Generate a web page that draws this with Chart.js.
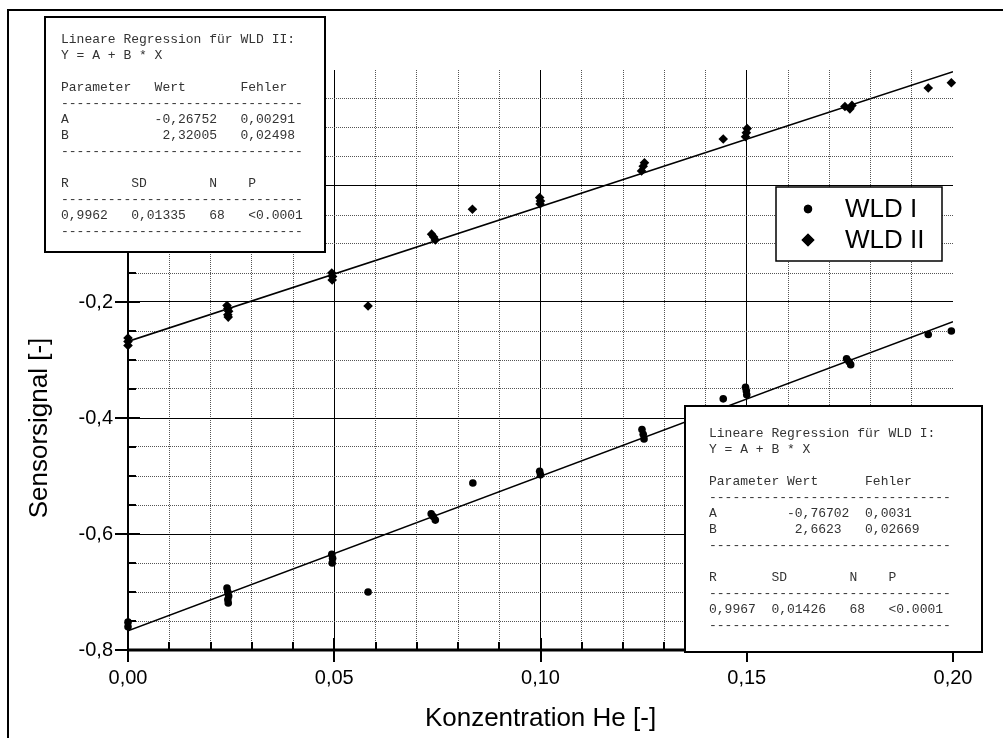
<!DOCTYPE html>
<html>
<head>
<meta charset="utf-8">
<script src="https://cdn.jsdelivr.net/npm/chart.js@4.4.1/dist/chart.umd.min.js"></script>
<style>
  html, body { margin: 0; padding: 0; background: #fff; }
</style>
</head>
<body>
<canvas id="chart" width="1003" height="738"></canvas>
<script>
// WLD I (circles)
const wld1X = [0, 0, 0.0240, 0.0242, 0.0244, 0.0242, 0.0243, 0.0494, 0.0496, 0.0495, 0.0582, 0.0735, 0.0740, 0.0745, 0.0836, 0.0998, 0.1000, 0.1246, 0.1249, 0.1251, 0.1443, 0.1497, 0.1499, 0.1500, 0.1742, 0.1748, 0.1752, 0.1940, 0.1996];
const wld1Y = [-0.752, -0.760, -0.693, -0.700, -0.707, -0.713, -0.719, -0.635, -0.642, -0.650, -0.700, -0.565, -0.570, -0.576, -0.512, -0.492, -0.498, -0.420, -0.428, -0.436, -0.367, -0.347, -0.353, -0.360, -0.298, -0.303, -0.308, -0.256, -0.250];

// WLD II (diamonds)
const wld2X = [0, 0, 0, 0.0240, 0.0242, 0.0244, 0.0242, 0.0243, 0.0494, 0.0496, 0.0495, 0.0582, 0.0736, 0.0741, 0.0745, 0.0835, 0.0998, 0.1000, 0.0999, 0.1245, 0.1249, 0.1252, 0.1443, 0.1497, 0.1499, 0.1501, 0.1738, 0.1750, 0.1755, 0.1940, 0.1996];
const wld2Y = [-0.262, -0.268, -0.275, -0.206, -0.211, -0.216, -0.222, -0.226, -0.150, -0.156, -0.162, -0.207, -0.083, -0.088, -0.093, -0.040, -0.020, -0.026, -0.031, 0.026, 0.034, 0.040, 0.081, 0.085, 0.092, 0.099, 0.137, 0.133, 0.139, 0.169, 0.178];

// regression lines (end points)
const fitX = [0, 0.2];
const fit1Y = [-0.767, -0.234];
const fit2Y = [-0.268, 0.197];

const seriesLabels = ['WLD I', 'WLD II'];
const xTitle = 'Konzentration He [-]';
const yTitle = 'Sensorsignal [-]';

const inset2Lines = [
  'Lineare Regression für WLD II:',
  'Y = A + B * X',
  '',
  'Parameter   Wert       Fehler',
  '-------------------------------',
  'A           -0,26752   0,00291',
  'B            2,32005   0,02498',
  '-------------------------------',
  '',
  'R        SD        N    P',
  '-------------------------------',
  '0,9962   0,01335   68   <0.0001',
  '-------------------------------'
];
const inset1Lines = [
  'Lineare Regression für WLD I:',
  'Y = A + B * X',
  '',
  'Parameter Wert      Fehler',
  '-------------------------------',
  'A         -0,76702  0,0031',
  'B          2,6623   0,02669',
  '-------------------------------',
  '',
  'R       SD        N    P',
  '-------------------------------',
  '0,9967  0,01426   68   <0.0001',
  '-------------------------------'
];

const toPts = (xs, ys) => xs.map((x, i) => ({ x: x, y: ys[i] }));
const comma = (v, d) => v.toFixed(d).replace('.', ',');
const isMajorX = v => Math.round(v * 100) % 5 === 0;
const isMajorY = v => Math.round(v * 20) % 4 === 0;
const sans = '"Liberation Sans", Arial, sans-serif';

function drawInset(ctx, x, y, w, h, pad, first, lines) {
  ctx.save();
  ctx.fillStyle = '#fff';
  ctx.fillRect(x, y, w, h);
  ctx.strokeStyle = '#000';
  ctx.lineWidth = 2;
  ctx.strokeRect(x, y, w, h);
  ctx.font = '13px "Liberation Mono", monospace';
  ctx.fillStyle = '#333';
  ctx.textBaseline = 'middle';
  lines.forEach((t, i) => ctx.fillText(t, x + pad, y + first + i * 16));
  ctx.restore();
}

const decor = {
  id: 'decor',
  beforeDraw(chart) {
    const ctx = chart.ctx;
    ctx.save();
    ctx.fillStyle = '#fff';
    ctx.fillRect(0, 0, chart.width, chart.height);
    ctx.strokeStyle = '#000';
    ctx.lineWidth = 2;
    ctx.beginPath();
    ctx.moveTo(8, chart.height);
    ctx.lineTo(8, 10);
    ctx.lineTo(chart.width, 10);
    ctx.stroke();
    // y axis title, sits lower than the axis centre in the original
    ctx.translate(40, 428);
    ctx.rotate(-Math.PI / 2);
    ctx.font = '26px ' + sans;
    ctx.fillStyle = '#000';
    ctx.textAlign = 'center';
    ctx.textBaseline = 'middle';
    ctx.fillText(yTitle, 0, 0);
    ctx.restore();
  },
  afterDatasetsDraw(chart) {
    const ctx = chart.ctx;
    const xs = chart.scales.x, ys = chart.scales.y;
    const a = chart.chartArea;
    ctx.save();
    ctx.strokeStyle = '#000';
    // axis lines
    ctx.lineWidth = 2;
    ctx.beginPath();
    ctx.moveTo(a.left, a.top);
    ctx.lineTo(a.left, a.bottom);
    ctx.stroke();
    ctx.lineWidth = 3;
    ctx.beginPath();
    ctx.moveTo(a.left - 1, a.bottom);
    ctx.lineTo(a.right, a.bottom);
    ctx.stroke();
    // ticks
    ctx.lineWidth = 2;
    xs.ticks.forEach(t => {
      const px = Math.round(xs.getPixelForValue(t.value));
      const major = isMajorX(t.value);
      ctx.beginPath();
      ctx.moveTo(px, a.bottom + (major ? 12 : 0));
      ctx.lineTo(px, a.bottom - (major ? 12 : 8));
      ctx.stroke();
    });
    ys.ticks.forEach(t => {
      const py = Math.round(ys.getPixelForValue(t.value));
      const major = isMajorY(t.value);
      ctx.beginPath();
      ctx.moveTo(a.left - (major ? 13 : 0), py);
      ctx.lineTo(a.left + (major ? 12 : 8), py);
      ctx.stroke();
    });
    ctx.restore();
  },
  afterDraw(chart) {
    const ctx = chart.ctx;
    drawInset(ctx, 45, 17, 280, 235, 16, 23, inset2Lines);
    drawInset(ctx, 685, 406, 297, 246, 24, 28, inset1Lines);
    // legend
    ctx.save();
    ctx.fillStyle = '#fff';
    ctx.fillRect(776, 187, 166, 74);
    ctx.strokeStyle = '#000';
    ctx.lineWidth = 1.5;
    ctx.strokeRect(776, 187, 166, 74);
    ctx.font = '26px ' + sans;
    ctx.textBaseline = 'middle';
    ctx.fillStyle = '#000';
    const rowY = [209, 240];
    const styles = [['circle', 4.2], ['rectRot', 6.5]];
    seriesLabels.forEach((lab, i) => {
      Chart.helpers.drawPoint(ctx, { pointStyle: styles[i][0], radius: styles[i][1], borderWidth: 0 }, 808, rowY[i]);
      ctx.fill();
      ctx.fillText(lab, 845, rowY[i] + 1);
    });
    ctx.restore();
  }
};

new Chart(document.getElementById('chart').getContext('2d'), {
  type: 'scatter',
  data: {
    datasets: [
      {
        label: seriesLabels[0],
        data: toPts(wld1X, wld1Y),
        pointStyle: 'circle',
        pointRadius: 3.8,
        backgroundColor: '#000',
        borderColor: '#000',
        borderWidth: 0,
        clip: false
      },
      {
        label: seriesLabels[1],
        data: toPts(wld2X, wld2Y),
        pointStyle: 'rectRot',
        pointRadius: 4.8,
        backgroundColor: '#000',
        borderColor: '#000',
        borderWidth: 0,
        clip: false
      },
      {
        type: 'line',
        data: toPts(fitX, fit1Y),
        borderColor: '#000',
        borderWidth: 1.6,
        pointRadius: 0,
        fill: false
      },
      {
        type: 'line',
        data: toPts(fitX, fit2Y),
        borderColor: '#000',
        borderWidth: 1.6,
        pointRadius: 0,
        fill: false
      }
    ]
  },
  options: {
    responsive: false,
    animation: false,
    layout: { padding: { top: 70, right: 50, left: 0, bottom: 0 } },
    plugins: {
      legend: { display: false },
      tooltip: { enabled: false }
    },
    scales: {
      x: {
        type: 'linear',
        min: 0,
        max: 0.2,
        afterFit: s => { s.height = 88; },
        ticks: {
          stepSize: 0.01,
          maxTicksLimit: 100,
          autoSkip: false,
          maxRotation: 0,
          padding: 16,
          color: '#000',
          font: { family: sans, size: 20 },
          callback: v => isMajorX(v) ? comma(v, 2) : ''
        },
        grid: {
          drawTicks: false,
          color: c => (c.tick && Math.round(c.tick.value * 100) === 20) ? 'rgba(0,0,0,0)' : (isMajorX(c.tick ? c.tick.value : 0) ? '#000' : '#555'),
          lineWidth: 1
        },
        border: {
          display: false,
          dash: c => (c.tick && isMajorX(c.tick.value)) ? [] : [1, 1]
        },
        title: {
          display: true,
          text: xTitle,
          color: '#000',
          font: { family: sans, size: 26 },
          padding: { top: 0, bottom: 4 }
        }
      },
      y: {
        type: 'linear',
        min: -0.8,
        max: 0.2,
        afterFit: s => { s.width = 128; },
        ticks: {
          stepSize: 0.05,
          maxTicksLimit: 100,
          autoSkip: false,
          padding: 15,
          color: '#000',
          font: { family: sans, size: 20 },
          callback: v => isMajorY(v) ? comma(v, 1) : ''
        },
        grid: {
          drawTicks: false,
          color: c => (c.tick && Math.round(c.tick.value * 20) === 4) ? 'rgba(0,0,0,0)' : (isMajorY(c.tick ? c.tick.value : 0) ? '#000' : '#555'),
          lineWidth: 1
        },
        border: {
          display: false,
          dash: c => (c.tick && isMajorY(c.tick.value)) ? [] : [1, 1]
        }
      }
    }
  },
  plugins: [decor]
});
</script>
</body>
</html>
